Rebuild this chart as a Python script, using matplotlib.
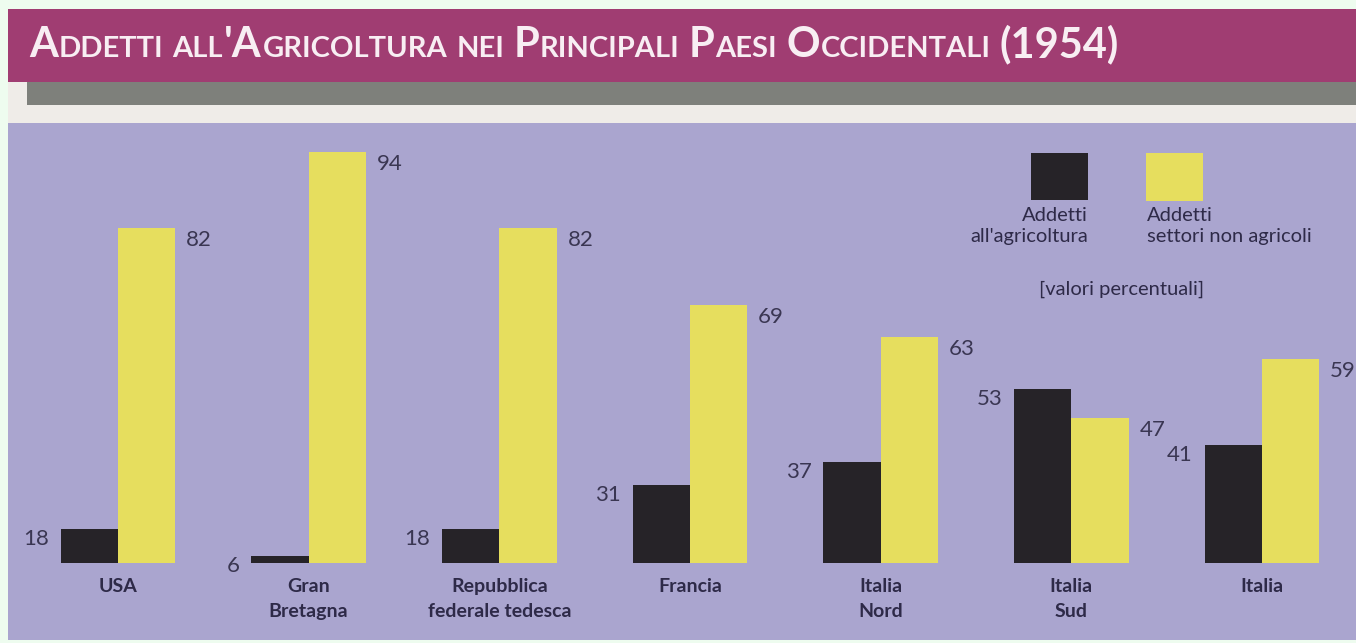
import matplotlib
matplotlib.use("Agg")
import matplotlib.pyplot as plt
from matplotlib.patches import Rectangle
import numpy as np

# data (percent of workers, 1954)
categories = ["USA", "Gran\nBretagna", "Repubblica\nfederale tedesca", "Francia",
              "Italia\nNord", "Italia\nSud", "Italia"]
agricoltura = [18, 6, 18, 31, 37, 53, 41]
non_agricoli = [82, 94, 82, 69, 63, 47, 59]
title = "Addetti all'Agricoltura nei Principali Paesi Occidentali (1954)"
legend_labels = ["Addetti\nall'agricoltura", "Addetti\nsettori non agricoli"]
note = "[valori percentuali]"

W, H = 1356, 643
MINT = "#eefcef"
MAGENTA = "#a03d72"
GREY = "#7e807b"
OFFWHITE = "#efece8"
LAVENDER = "#aaa5cf"
BLACK = "#262328"
YELLOW = "#e6de5e"
INK = "#2e2a48"
FONT = "Lato"

fig = plt.figure(figsize=(W / 100, H / 100), dpi=100)
fig.patch.set_facecolor(MINT)


def rect_px(x0, y0, x1, y1, color):
    fig.add_artist(Rectangle((x0 / W, 1 - y1 / H), (x1 - x0) / W, (y1 - y0) / H,
                             transform=fig.transFigure, facecolor=color,
                             edgecolor="none", zorder=0))


# background bands of the printed page
rect_px(8, 9, W, 82, MAGENTA)
rect_px(8, 82, W, 123, OFFWHITE)
rect_px(27, 82, W, 105, GREY)
rect_px(8, 123, W, 640, LAVENDER)

# title in small caps, drawn run by run
runs = []
for ch in title:
    kind = "space" if ch == " " else ("small" if ch.islower() else "big")
    if runs and runs[-1][1] == kind and kind != "space":
        runs[-1][0] += ch.upper()
    else:
        runs.append([ch.upper(), kind])
renderer = fig.canvas.get_renderer()
x = 29
for txt, kind in runs:
    if kind == "space":
        x += 8
        continue
    size = 30 if kind == "big" else 21
    t = fig.text(x / W, 1 - 57 / H, txt, fontsize=size, fontweight="bold",
                 family=FONT, color="#f8eef3", va="baseline", ha="left")
    x += t.get_window_extent(renderer).width + 1

# bars on a power scale like the printed chart
ax = fig.add_axes([0, (H - 563) / H, 1, 411 / H])
ax.set_facecolor("none")
ax.set_yscale("function", functions=(lambda v: np.sign(v) * np.abs(v) ** 1.5,
                                     lambda v: np.sign(v) * np.abs(v) ** (1 / 1.5)))
step = (1262 - 118) / 6
ax.set_xlim(-118 / step, (W - 118) / step)
ax.set_ylim(0, max(max(agricoltura), max(non_agricoli)))
ax.axis("off")

xs = np.arange(len(categories))
bw = 0.3
ax.bar(xs - bw / 2, agricoltura, bw, color=BLACK, zorder=3)
ax.bar(xs + bw / 2, non_agricoli, bw, color=YELLOW, zorder=3)

for i, (a, n) in enumerate(zip(agricoltura, non_agricoli)):
    ax.annotate(str(a), (i - bw, a), xytext=(-12, -10), textcoords="offset pixels",
                ha="right", va="center", fontsize=16, family=FONT, color="#3a3652",
                annotation_clip=False)
    ax.annotate(str(n), (i + bw, n), xytext=(11, -12), textcoords="offset pixels",
                ha="left", va="center", fontsize=16, family=FONT, color="#3a3652",
                annotation_clip=False)
    ax.annotate(categories[i], (i, 0), xytext=(0, -15), textcoords="offset pixels",
                ha="center", va="top", fontsize=14, family=FONT, fontweight="bold",
                color=INK, linespacing=1.55, annotation_clip=False)

# legend
rect_px(1031, 153, 1088, 200, BLACK)
rect_px(1146, 153, 1203, 201, YELLOW)
fig.text(1088 / W, 1 - 207 / H, legend_labels[0], ha="right", va="top", fontsize=14.5,
         family=FONT, color=INK, linespacing=1.3)
fig.text(1147 / W, 1 - 207 / H, legend_labels[1], ha="left", va="top", fontsize=14.5,
         family=FONT, color=INK, linespacing=1.3)
fig.text(1122 / W, 1 - 289 / H, note, ha="center", va="center", fontsize=14.5,
         family=FONT, color=INK)

fig.savefig("out.png", dpi=100, facecolor=fig.get_facecolor())
